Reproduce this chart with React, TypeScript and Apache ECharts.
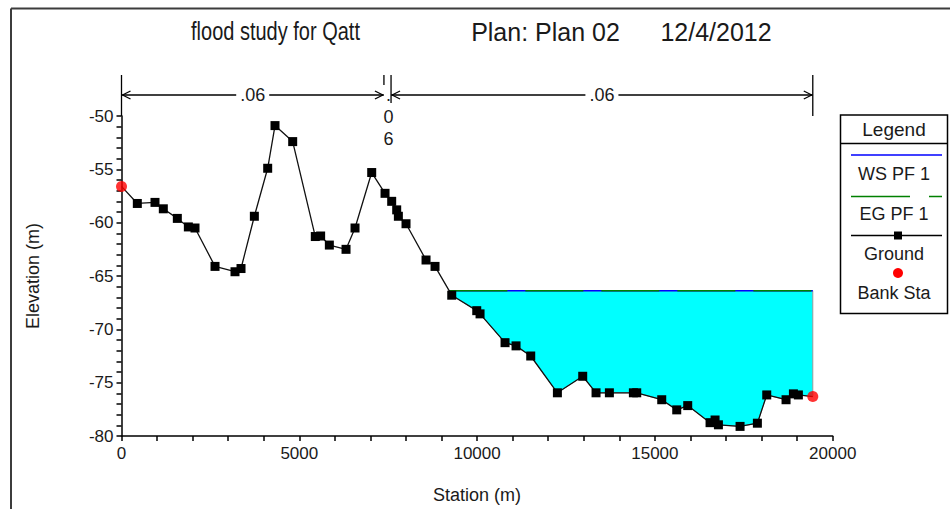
import React, { useEffect, useRef } from "react";
import * as echarts from "echarts";

// ---- data ----
const stations = [0, 445, 942, 1176, 1570, 1880, 2067, 2630, 3192, 3361, 3736, 4111, 4317, 4814, 5450, 5600, 5845, 6314, 6567, 7036, 7411, 7598, 7739, 7786, 8001, 8564, 8817, 9287, 9990, 10083, 10786, 11095, 11508, 12258, 12970, 13345, 13720, 14395, 14489, 15192, 15614, 15923, 16551, 16692, 16786, 17395, 17882, 18145, 18688, 18895, 19035, 19440];
const elevations = [-56.6, -58.2, -58.1, -58.7, -59.6, -60.4, -60.5, -64.1, -64.6, -64.3, -59.4, -54.9, -50.9, -52.4, -61.3, -61.25, -62.1, -62.5, -60.5, -55.3, -57.25, -58.0, -58.8, -59.4, -60.1, -63.5, -64.1, -66.8, -68.25, -68.55, -71.25, -71.55, -72.5, -75.95, -74.4, -75.95, -75.95, -75.95, -75.95, -76.6, -77.55, -77.15, -78.75, -78.5, -78.95, -79.1, -78.8, -76.15, -76.6, -76.05, -76.15, -76.3];
const bankStations = [0, 19440];
const bankElevations = [-56.6, -76.3];
const wsStations = [9220, 19440];
const wsElevation = -66.38;
const egElevation = -66.38;
const nBreaks = [0, 7380, 7580, 19440];
const nLabels = [".06", ".06", ".06"];
const xTicks = { min: 0, max: 20000, interval: 5000 };
const yTicks = { min: -80, max: -50, interval: 5 };
const titleParts = ["flood study for Qatt", "Plan: Plan 02", "12/4/2012"];
const legendItems = ["WS PF 1", "EG PF 1", "Ground", "Bank Sta"];

const FONT = "'Liberation Sans', Arial, sans-serif";
const TXT = "#1a1a1a";

export default function App() {
  const ref = useRef<HTMLDivElement>(null);
  useEffect(() => {
    if (!ref.current) return;
    const chart = echarts.init(ref.current, null, { renderer: "svg" });

    const groundData = stations.map((s, i) => {
      const isBank = bankStations.includes(s);
      return isBank ? { value: [s, elevations[i]], symbol: "none" } : [s, elevations[i]];
    });
    // water polygon: surface then ground back
    const below = stations
      .map((s, i) => [s, elevations[i]])
      .filter((p) => p[0] >= wsStations[0] && p[0] <= wsStations[1])
      .reverse();
    const polygon = [[wsStations[0], wsElevation], [wsStations[1], wsElevation], ...below];

    const option: any = {
      animation: false,
      backgroundColor: "#ffffff",
      grid: { left: 121.5, right: 117.3, top: 116, bottom: 73, containLabel: false },
      xAxis: {
        type: "value",
        min: xTicks.min,
        max: xTicks.max,
        interval: xTicks.interval,
        name: "Station (m)",
        nameLocation: "middle",
        nameGap: 50,
        nameTextStyle: { fontFamily: FONT, fontSize: 18, color: TXT },
        axisLine: { show: true, onZero: false, lineStyle: { color: "#000", width: 1.5 } },
        axisTick: { show: true, inside: false, length: 5, lineStyle: { color: "#000", width: 1.5 } },
        minorTick: { show: true, splitNumber: 5, length: 5, lineStyle: { color: "#000", width: 1.5 } },
        axisLabel: { fontFamily: FONT, fontSize: 17, color: TXT, margin: 9, formatter: (v: number) => String(v) },
        splitLine: { show: false },
        minorSplitLine: { show: false },
      },
      yAxis: {
        type: "value",
        min: yTicks.min,
        max: yTicks.max,
        interval: yTicks.interval,
        name: "Elevation (m)",
        nameLocation: "middle",
        nameRotate: 90,
        nameGap: 80,
        nameTextStyle: { fontFamily: FONT, fontSize: 18, color: TXT },
        axisLine: { show: true, onZero: false, lineStyle: { color: "#000", width: 1.5 } },
        axisTick: { show: true, inside: false, length: 5, lineStyle: { color: "#000", width: 1.5 } },
        minorTick: { show: true, splitNumber: 5, length: 5, lineStyle: { color: "#000", width: 1.5 } },
        axisLabel: { fontFamily: FONT, fontSize: 17, color: TXT, margin: 8, formatter: (v: number) => String(v) },
        splitLine: { show: false },
        minorSplitLine: { show: false },
      },
      series: [
        {
          type: "custom",
          name: "water",
          data: polygon,
          encode: { x: 0, y: 1 },
          z: 1,
          silent: true,
          renderItem: (params: any, api: any) => {
            if (params.dataIndex !== 0) return null;
            const pts = polygon.map((p) => api.coord(p));
            return {
              type: "polygon",
              shape: { points: pts },
              style: { fill: "#00FFFF", stroke: "#9a9a9a", lineWidth: 1 },
            };
          },
        },
        {
          type: "line",
          name: "WS PF 1",
          data: wsStations.map((s) => [s, wsElevation]),
          symbol: "none",
          z: 3,
          lineStyle: { color: "#0000FF", width: 1.5 },
        },
        {
          type: "line",
          name: "EG PF 1",
          data: wsStations.map((s) => [s, egElevation]),
          symbol: "none",
          z: 4,
          lineStyle: { color: "#008000", width: 1.5, type: [58, 18] },
        },
        {
          type: "line",
          name: "Ground",
          data: groundData,
          symbol: "rect",
          symbolSize: 9,
          showAllSymbol: true,
          z: 5,
          itemStyle: { color: "#000" },
          lineStyle: { color: "#111", width: 1.3 },
        },
        {
          type: "scatter",
          name: "Bank Sta",
          data: bankStations.map((s, i) => [s, bankElevations[i]]),
          symbol: "circle",
          symbolSize: 11,
          z: 6,
          itemStyle: { color: "#FF0000" },
        },
      ],
    };
    chart.setOption(option);

    // annotation + legend + frame graphics (positions from axis scales)
    const px = (x: number, y: number) => chart.convertToPixel({ gridIndex: 0 }, [x, y]) as number[];
    const arrowY = 95;
    const topY = 75;
    const axisTopY = px(0, yTicks.max)[1];
    const g: any[] = [];
    const L = (x1: number, y1: number, x2: number, y2: number, color = "#000", w = 1.3) =>
      g.push({ type: "line", shape: { x1, y1, x2, y2 }, style: { stroke: color, lineWidth: w }, z: 100 });

    // frame
    L(11, 8.5, 950, 8.5, "#3c3c3c", 2);
    L(11, 8.5, 11, 509, "#3c3c3c", 2);

    // title
    const titleX = [275.5, 545.5, 716];
    const titleScale = [0.8, 1, 1];
    titleParts.forEach((t, i) =>
      g.push({
        type: "text",
        x: titleX[i],
        y: 32,
        scaleX: titleScale[i],
        style: { text: t, fontFamily: FONT, fontSize: 25, fill: TXT, align: "center", verticalAlign: "middle" },
        z: 100,
      })
    );

    // Manning's n annotation
    const bx = nBreaks.map((b) => px(b, yTicks.max)[0]);
    const arrow = (tipX: number, dir: number) => {
      L(tipX, arrowY, tipX + dir * 8, arrowY - 4);
      L(tipX, arrowY, tipX + dir * 8, arrowY + 4);
    };
    // region 1
    L(bx[0], topY, bx[0], axisTopY);
    L(bx[0], arrowY, bx[1], arrowY);
    arrow(bx[0] + 1, 1);
    arrow(bx[1] - 1, -1);
    L(bx[1], topY, bx[1], topY + 10);
    // region 3
    L(bx[2], topY, bx[2], arrowY + 8);
    L(bx[2], arrowY, bx[3], arrowY);
    arrow(bx[2] + 1, 1);
    arrow(bx[3] - 1, -1);
    L(bx[3], topY, bx[3], axisTopY);
    const lab = (x: number, t: string) =>
      g.push({
        type: "text",
        x,
        y: arrowY,
        style: {
          text: t,
          fontFamily: FONT,
          fontSize: 18,
          fill: TXT,
          align: "center",
          verticalAlign: "middle",
          backgroundColor: "#fff",
          padding: [0, 4],
        },
        z: 101,
      });
    lab((bx[0] + bx[1]) / 2, nLabels[0]);
    lab((bx[2] + bx[3]) / 2, nLabels[2]);
    g.push({
      type: "text",
      x: (bx[1] + bx[2]) / 2 + 1,
      y: 117,
      style: {
        text: nLabels[1].split("").join("\n"),
        fontFamily: FONT,
        fontSize: 18,
        lineHeight: 22,
        fill: TXT,
        align: "center",
        verticalAlign: "middle",
      },
      z: 101,
    });

    // legend box
    const lx0 = 840.5, lx1 = 947.5, ly0 = 115, ly1 = 313.5;
    g.push({
      type: "rect",
      shape: { x: lx0, y: ly0, width: lx1 - lx0, height: ly1 - ly0 },
      style: { fill: "#fff", stroke: "#000", lineWidth: 1.5 },
      z: 99,
    });
    L(lx0, 143.5, lx1, 143.5, "#000", 1.5);
    const lt = (y: number, t: string, size = 18) =>
      g.push({
        type: "text",
        x: (lx0 + lx1) / 2,
        y,
        style: { text: t, fontFamily: FONT, fontSize: size, fill: TXT, align: "center", verticalAlign: "middle" },
        z: 101,
      });
    lt(129, "Legend", 19);
    L(851, 155, 942, 155, "#0000FF", 1.5);
    lt(174, legendItems[0]);
    g.push({
      type: "line",
      shape: { x1: 851, y1: 196.5, x2: 942, y2: 196.5 },
      style: { stroke: "#008000", lineWidth: 1.5, lineDash: [59, 19] },
      z: 101,
    });
    lt(214, legendItems[1]);
    L(851, 235.5, 942, 235.5, "#000", 1.5);
    g.push({ type: "rect", shape: { x: 894, y: 231.5, width: 8, height: 8 }, style: { fill: "#000" }, z: 101 });
    lt(253.5, legendItems[2]);
    g.push({ type: "circle", shape: { cx: 898, cy: 273, r: 5 }, style: { fill: "#FF0000" }, z: 101 });
    lt(293, legendItems[3]);

    chart.setOption({ graphic: g });

    return () => chart.dispose();
  }, []);
  return (
    <div
      ref={ref}
      style={{ position: "fixed", left: 0, top: 0, width: 950, height: 509, background: "#fff" }}
    />
  );
}
